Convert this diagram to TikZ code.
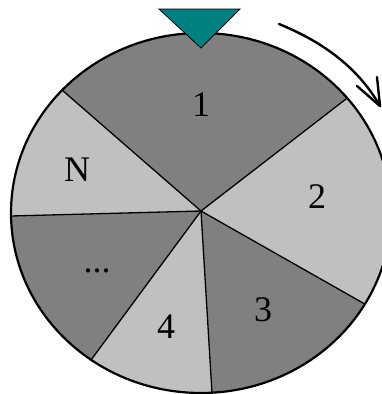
\documentclass[tikz,border=0pt]{standalone}
\usepackage{fontspec}
\setmainfont{Liberation Serif}
\usetikzlibrary{calc}
\definecolor{darkseg}{HTML}{808080}
\definecolor{lightseg}{HTML}{C0C0C0}
\definecolor{pointer}{HTML}{008080}
\begin{document}
\begin{tikzpicture}[x=1pt,y=-1pt,
  rim/.style={draw=black,line width=2.2pt},
  spoke/.style={draw=black,line width=1.3pt},
  lbl/.style={inner sep=0pt,font=\fontsize{36}{40}\selectfont}]
\useasboundingbox (0,0) rectangle (382,394);
\begin{scope}
\clip (0,0) rectangle (382,394);
\coordinate (C) at (201,211);
\coordinate (ptl) at (62,90);
\coordinate (ptr) at (346,99);
\coordinate (prl) at (363,303);
\coordinate (pb) at (212,393);
\coordinate (pbl) at (91,360);
\coordinate (pl) at (11,216);
\begin{scope}
\clip (201,213) ellipse [x radius=190, y radius=180];
\fill[darkseg] (201,213) ellipse [x radius=190, y radius=180];
\fill[lightseg] (C) -- ($(C)!2!(ptr)$) -- ($(C)!2!(prl)$) -- cycle;
\fill[lightseg] (C) -- ($(C)!2!(pb)$) -- ($(C)!2!(pbl)$) -- cycle;
\fill[lightseg] (C) -- ($(C)!2!(pl)$) -- ($(C)!2!(ptl)$) -- cycle;
\foreach \p in {ptl,ptr,prl,pb,pbl,pl}
  \draw[spoke] (C) -- ($(C)!1.1!(\p)$);
\end{scope}
\draw[rim] (201,213) ellipse [x radius=190, y radius=180];
\coordinate (t1) at (159,9);
\coordinate (t2) at (240,9);
\coordinate (t3) at (201,48);
\filldraw[fill=pointer,draw=black,line width=0.8pt] (t1) -- (t2) -- (t3) -- cycle;
\coordinate (a0) at (279,24);
\coordinate (a1) at (380,106);
\coordinate (b1) at (357,86);
\coordinate (b2) at (377,77);
\draw[line width=2.4pt,line cap=round,line join=round] (a0) .. controls (318,40) and (356,64) .. (a1);
\draw[line width=2.4pt,line cap=round,line join=round] (b1) -- (a1) -- (b2);
\node[lbl] (n1) at (201,105) {1};
\node[lbl] (n2) at (317,197) {2};
\node[lbl] (n3) at (263,310) {3};
\node[lbl] (n4) at (166,327) {4};
\node[lbl] (nN) at (77,170) {N};
\node[lbl,anchor=base] (nd) at (97,272) {...};
\end{scope}
\end{tikzpicture}
\end{document}
